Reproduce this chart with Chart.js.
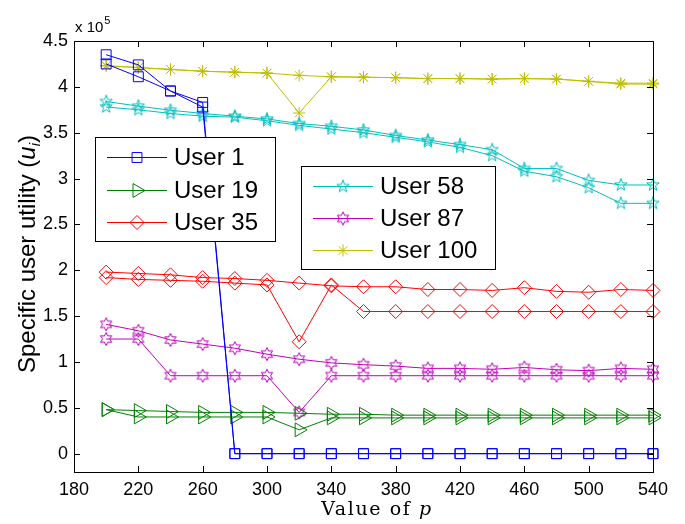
<!DOCTYPE html>
<html>
<head>
<meta charset="utf-8">
<script src="https://cdn.jsdelivr.net/npm/chart.js@4.4.1/dist/chart.umd.min.js"></script>
<style>
  html, body { margin: 0; padding: 0; background: #fff; }
  canvas { display: block; }
</style>
</head>
<body>
<canvas id="main-chart" width="685" height="524"></canvas>
<script>
// ── Data (utility values in units of 10^5) ──────────────────────────────────
const P_VALUES = [200, 220, 240, 260, 280, 300, 320, 340, 360, 380, 400, 420, 440, 460, 480, 500, 520, 540];
const X_TICKS  = [180, 220, 260, 300, 340, 380, 420, 460, 500, 540];
const Y_TICKS  = [0, 0.5, 1, 1.5, 2, 2.5, 3, 3.5, 4, 4.5];

const USER1_A   = [4.35, 4.24, 3.955, 3.83, 0, 0, 0, 0, 0, 0, 0, 0, 0, 0, 0, 0, 0, 0];
const USER1_B   = [4.25, 4.11, 3.955, 3.78, 0, 0, 0, 0, 0, 0, 0, 0, 0, 0, 0, 0, 0, 0];
const USER19_A  = [0.48, 0.47, 0.46, 0.45, 0.45, 0.45, 0.44, 0.43, 0.43, 0.42, 0.42, 0.42, 0.42, 0.42, 0.42, 0.42, 0.42, 0.42];
const USER19_B  = [0.48, 0.40, 0.40, 0.40, 0.40, 0.40, 0.26, 0.39, 0.39, 0.39, 0.39, 0.39, 0.39, 0.39, 0.39, 0.39, 0.39, 0.39];
const USER35_A  = [1.98, 1.965, 1.95, 1.92, 1.91, 1.89, 1.86, 1.83, 1.82, 1.82, 1.79, 1.79, 1.78, 1.81, 1.77, 1.76, 1.79, 1.78];
const USER35_B  = [1.92, 1.90, 1.89, 1.88, 1.86, 1.84, 1.22, 1.84, 1.55, 1.55, 1.55, 1.55, 1.55, 1.55, 1.55, 1.55, 1.55, 1.55];
const USER58_A  = [3.84, 3.79, 3.745, 3.71, 3.68, 3.65, 3.60, 3.57, 3.53, 3.47, 3.42, 3.37, 3.315, 3.11, 3.11, 2.98, 2.93, 2.93];
const USER58_B  = [3.78, 3.75, 3.71, 3.68, 3.67, 3.63, 3.58, 3.54, 3.50, 3.45, 3.40, 3.34, 3.25, 3.08, 3.02, 2.90, 2.73, 2.73];
const USER87_A  = [1.41, 1.34, 1.24, 1.195, 1.15, 1.085, 1.03, 0.99, 0.97, 0.955, 0.93, 0.93, 0.92, 0.94, 0.915, 0.905, 0.93, 0.92];
const USER87_B  = [1.25, 1.25, 0.85, 0.85, 0.85, 0.85, 0.45, 0.85, 0.85, 0.85, 0.85, 0.85, 0.85, 0.85, 0.85, 0.85, 0.85, 0.85];
const USER100_A = [4.23, 4.21, 4.19, 4.17, 4.16, 4.15, 4.125, 4.11, 4.105, 4.10, 4.09, 4.09, 4.085, 4.09, 4.085, 4.06, 4.04, 4.04];
const USER100_B = [4.23, 4.21, 4.19, 4.17, 4.16, 4.15, 3.715, 4.11, 4.105, 4.10, 4.09, 4.09, 4.085, 4.09, 4.085, 4.06, 4.03, 4.03];

// ── Marker shapes drawn on small canvases ─────────────────────────────────────
function markerCanvas(size, draw) {
  const c = document.createElement("canvas");
  c.width = c.height = size;
  const g = c.getContext("2d");
  g.lineWidth = 1;
  draw(g, size / 2);
  return c;
}

function starMarker(points, outer, inner, color) {
  return markerCanvas(Math.ceil(outer * 2 + 3), (g, m) => {
    g.beginPath();
    for (let i = 0; i < points * 2; i++) {
      const r = i % 2 ? inner : outer;
      const a = -Math.PI / 2 + i * Math.PI / points;
      g.lineTo(m + r * Math.cos(a), m + r * Math.sin(a));
    }
    g.closePath();
    g.strokeStyle = color;
    g.stroke();
  });
}

const BLUE = "#0000ff", GREEN = "#008000", RED = "#ff0000";
const CYAN = "#00bfbf", MAGENTA = "#bf00bf", OLIVE = "#bfbf00";

const MARKERS = {
  square:   { pointStyle: "rect",     radius: 7, rotation: 0 },
  triangle: { pointStyle: "triangle", radius: 8, rotation: 90 },
  diamond:  { pointStyle: "rectRot",  radius: 7, rotation: 0 },
  penta:    { pointStyle: starMarker(5, 6.5, 2.6, CYAN), radius: 6, rotation: 0 },
  hexa:     { pointStyle: starMarker(6, 6.5, 3.5, MAGENTA), radius: 6, rotation: 0 },
  aster:    { pointStyle: "star",     radius: 6, rotation: 0 },
};

const USERS = [
  { label: "User 1",   color: BLUE,    marker: MARKERS.square,   series: [USER1_A, USER1_B] },
  { label: "User 19",  color: GREEN,   marker: MARKERS.triangle, series: [USER19_A, USER19_B] },
  { label: "User 35",  color: RED,     marker: MARKERS.diamond,  series: [USER35_A, USER35_B] },
  { label: "User 58",  color: CYAN,    marker: MARKERS.penta,    series: [USER58_A, USER58_B] },
  { label: "User 87",  color: MAGENTA, marker: MARKERS.hexa,     series: [USER87_A, USER87_B] },
  { label: "User 100", color: OLIVE,   marker: MARKERS.aster,    series: [USER100_A, USER100_B] },
];

const datasets = [];
USERS.forEach(u => {
  u.series.forEach(vals => {
    datasets.push({
      label: u.label,
      data: P_VALUES.map((p, i) => ({ x: p, y: vals[i] })),
      borderColor: u.color,
      backgroundColor: "rgba(0,0,0,0)",
      borderWidth: 1,
      pointStyle: u.marker.pointStyle,
      pointRadius: u.marker.radius,
      pointHoverRadius: u.marker.radius,
      pointRotation: u.marker.rotation,
      pointBorderColor: u.color,
      pointHoverBorderColor: u.color,
      pointBackgroundColor: "rgba(0,0,0,0)",
      pointHoverBackgroundColor: "rgba(0,0,0,0)",
      pointBorderWidth: 1,
      pointHoverBorderWidth: 1,
      tension: 0,
      fill: false,
      clip: false,
    });
  });
});

// ── Axes frame, inward ticks, titles, legends ────────────────────────────────
const FONT = "'Liberation Sans', Arial, Helvetica, sans-serif";
const SERIF = "'DejaVu Serif', 'Liberation Serif', serif";

const framePlugin = {
  id: "frame",
  afterDraw(chart) {
    const { ctx, chartArea: a } = chart;
    const xs = chart.scales.x, ys = chart.scales.y;
    ctx.save();
    ctx.strokeStyle = "#000";
    ctx.lineWidth = 1;
    ctx.strokeRect(Math.round(a.left) + 0.5, Math.round(a.top) + 0.5,
                   Math.round(a.right - a.left), Math.round(a.bottom - a.top));
    ctx.beginPath();
    X_TICKS.forEach(v => {
      const x = Math.round(xs.getPixelForValue(v)) + 0.5;
      ctx.moveTo(x, a.bottom); ctx.lineTo(x, a.bottom - 6);
      ctx.moveTo(x, a.top);    ctx.lineTo(x, a.top + 6);
    });
    Y_TICKS.forEach(v => {
      const y = Math.round(ys.getPixelForValue(v)) + 0.5;
      ctx.moveTo(a.left, y);  ctx.lineTo(a.left + 6, y);
      ctx.moveTo(a.right, y); ctx.lineTo(a.right - 6, y);
    });
    ctx.stroke();

    // exponent "x 10^5"
    ctx.fillStyle = "#000";
    ctx.textBaseline = "alphabetic";
    ctx.textAlign = "left";
    ctx.font = "15px " + FONT;
    ctx.fillText("x 10", 75, 32);
    const w10 = ctx.measureText("x 10").width;
    ctx.font = "11px " + FONT;
    ctx.fillText("5", 75 + w10 + 1, 24);

    // x title: "Value of p"
    ctx.letterSpacing = "1.6px";
    ctx.font = "19px " + SERIF;
    const t1 = "Value of ";
    const w1 = ctx.measureText(t1).width;
    ctx.font = "italic 19px " + SERIF;
    const w2 = ctx.measureText("p").width;
    const xStart = 377 - (w1 + w2) / 2;
    ctx.font = "19px " + SERIF;
    ctx.fillText(t1, xStart, 515);
    ctx.font = "italic 19px " + SERIF;
    ctx.fillText("p", xStart + w1, 515);
    ctx.letterSpacing = "0px";

    // y title: "Specific user utility (u_i)"
    ctx.save();
    ctx.translate(35, 254);
    ctx.rotate(-Math.PI / 2);
    const parts = [
      { t: "Specific user utility (", f: "24px " + FONT, dy: 0 },
      { t: "u", f: "italic 24px " + FONT, dy: 0 },
      { t: "i", f: "italic 15px " + FONT, dy: 5 },
      { t: ")", f: "24px " + FONT, dy: 0 },
    ];
    let total = 0;
    parts.forEach(p => { ctx.font = p.f; p.w = ctx.measureText(p.t).width; total += p.w; });
    let cx = -total / 2;
    parts.forEach(p => { ctx.font = p.f; ctx.fillText(p.t, cx, p.dy); cx += p.w; });
    ctx.restore();

    // legends
    drawLegend(ctx, USERS.slice(0, 3), { left: 95, top: 137, right: 275, bottom: 241 }, 107, 157, 32.5);
    drawLegend(ctx, USERS.slice(3), { left: 301, top: 166, right: 495, bottom: 269 }, 313, 186, 32.2);
    ctx.restore();
  },
};

function drawLegend(ctx, users, box, lineX, firstY, step) {
  ctx.save();
  ctx.fillStyle = "#fff";
  ctx.fillRect(box.left, box.top, box.right - box.left, box.bottom - box.top);
  ctx.strokeStyle = "#000";
  ctx.lineWidth = 1;
  ctx.strokeRect(box.left + 0.5, box.top + 0.5, box.right - box.left, box.bottom - box.top);
  users.forEach((u, i) => {
    const y = Math.round(firstY + i * step) + 0.5;
    ctx.strokeStyle = u.color;
    ctx.beginPath();
    ctx.moveTo(lineX, y);
    ctx.lineTo(lineX + 60, y);
    ctx.stroke();
    ctx.strokeStyle = u.color;
    ctx.fillStyle = "rgba(0,0,0,0)";
    ctx.lineWidth = 1;
    Chart.helpers.drawPoint(ctx, {
      pointStyle: u.marker.pointStyle,
      radius: u.marker.radius,
      rotation: u.marker.rotation,
      borderWidth: 1,
    }, lineX + 30, y);
    ctx.fillStyle = "#000";
    ctx.font = "24px " + FONT;
    ctx.textAlign = "left";
    ctx.textBaseline = "middle";
    ctx.fillText(u.label, lineX + 67, y + 1);
  });
  ctx.restore();
}

// ── Chart ────────────────────────────────────────────────────────────────────
new Chart(document.getElementById("main-chart"), {
  type: "line",
  data: { datasets },
  options: {
    responsive: false,
    animation: false,
    devicePixelRatio: 1,
    events: [],
    layout: { padding: { left: 0, top: 41, right: 32, bottom: 0 } },
    plugins: { legend: { display: false }, tooltip: { enabled: false } },
    scales: {
      x: {
        type: "linear",
        min: 180,
        max: 540,
        afterBuildTicks: s => { s.ticks = X_TICKS.map(v => ({ value: v })); },
        afterFit: s => { s.height = 52; },
        ticks: { color: "#000", font: { family: FONT, size: 18 }, padding: 7, maxRotation: 0 },
        grid: { display: false, drawTicks: false },
        border: { display: false },
      },
      y: {
        type: "linear",
        min: -0.2,
        max: 4.5,
        afterBuildTicks: s => { s.ticks = Y_TICKS.map(v => ({ value: v })); },
        afterFit: s => { s.width = 74; },
        ticks: { color: "#000", font: { family: FONT, size: 18 }, padding: 6,
                 callback: v => String(v) },
        grid: { display: false, drawTicks: false },
        border: { display: false },
      },
    },
  },
  plugins: [framePlugin],
});
</script>
</body>
</html>
